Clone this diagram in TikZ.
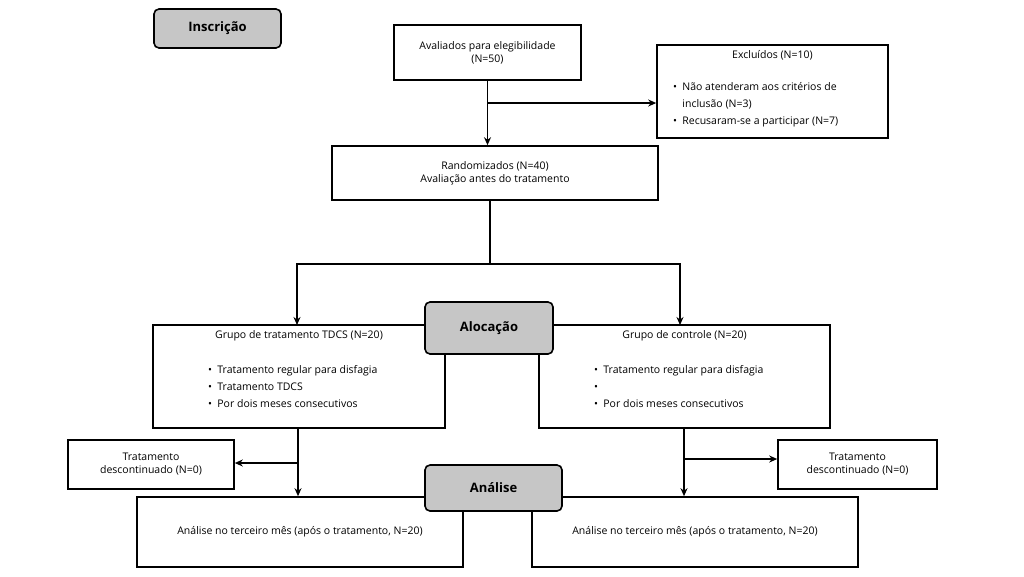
\documentclass[tikz,border=0pt]{standalone}
\usepackage{fontspec}
\setmainfont{Open Sans}
\usetikzlibrary{positioning,arrows.meta}
\tikzset{
  box/.style={draw,line width=1.6pt,inner sep=2pt,align=center,font=\fontsize{10.5}{13}\selectfont},
  phase/.style={draw,line width=1.6pt,rounded corners=5pt,fill=gray!45,font=\fontsize{13}{15}\selectfont\bfseries},
  txt/.style={inner sep=0pt,align=left,font=\fontsize{10.5}{17}\selectfont},
  link/.style={line width=1.6pt,-{Stealth[length=8pt,width=7pt]}},
  seg/.style={line width=1.6pt}
}
\begin{document}
\begin{tikzpicture}[x=1pt,y=-1pt]
	\useasboundingbox (0,0) rectangle (1024,576);
	%phases
	\node[phase,minimum width=127,minimum height=39] (insc) at (217.5,28.5) {Inscrição};

	%enrolment
	\node[box,minimum width=187,minimum height=55] (aval) at (487.5,52.5) {Avaliados para elegibilidade\\(N=50)};
	\node[box,minimum width=231,minimum height=93] (excl) at (772.5,91.5) {};
	\node[txt,below=6pt of excl.north] {Excluídos (N=10)};
	\node[txt,anchor=north west] at (673,82) {\textbullet\enspace Não atenderam aos critérios de\\\phantom{\textbullet\enspace}inclusão (N=3)\\\textbullet\enspace Recusaram-se a participar (N=7)};
	\node[box,minimum width=326,minimum height=54] (rand) at (495,173) {Randomizados (N=40)\\Avaliação antes do tratamento};

	%allocation
	\node[box,minimum width=292,minimum height=103] (tdcs) at (299,376.5) {};
	\node[box,minimum width=291,minimum height=103] (ctrl) at (684.5,376.5) {};
	\node[phase,minimum width=128,minimum height=52] (aloc) at (489,328) {Alocação};
	\node[txt,below=6pt of tdcs.north] {Grupo de tratamento TDCS (N=20)};
	\node[txt,anchor=north west] at (208,365) {\textbullet\enspace Tratamento regular para disfagia\\\textbullet\enspace Tratamento TDCS\\\textbullet\enspace Por dois meses consecutivos};
	\node[txt,below=6pt of ctrl.north] {Grupo de controle (N=20)};
	\node[txt,anchor=north west] at (594,365) {\textbullet\enspace Tratamento regular para disfagia\\\textbullet\\\textbullet\enspace Por dois meses consecutivos};

	%discontinued
	\node[box,minimum width=166,minimum height=49] (discL) at (151,464.5) {Tratamento\\descontinuado (N=0)};
	\node[box,minimum width=159,minimum height=49] (discR) at (857.5,464.5) {Tratamento\\descontinuado (N=0)};

	%analysis
	\node[box,minimum width=326,minimum height=70] (anL) at (300,532) {Análise no terceiro mês (após o tratamento, N=20)};
	\node[box,minimum width=326,minimum height=70] (anR) at (695,532) {Análise no terceiro mês (após o tratamento, N=20)};
	\node[phase,minimum width=137,minimum height=46] (anal) at (493.5,488) {Análise};

	%connectors
	\coordinate (jE) at (aval.south |- 0,103);
	\draw[link] (aval.south) -- (aval.south |- rand.north);
	\draw[link] (jE) -- (excl.west |- jE);
	\coordinate (jS) at (490,264);
	\draw[seg] (490,200) -- (jS);
	\draw[seg] (297,264) -- (680,264);
	\draw[link] (297,263.2) -- (297,325);
	\draw[link] (680,263.2) -- (680,325);
	\coordinate (lT) at (298,428);
	\coordinate (rT) at (684,428);
	\draw[link] (lT) -- (lT |- anL.north);
	\draw[link] (298,463) -- (discL.east |- 0,463);
	\draw[link] (rT) -- (rT |- anR.north);
	\draw[link] (684,459) -- (discR.west |- 0,459);
\end{tikzpicture}
\end{document}
